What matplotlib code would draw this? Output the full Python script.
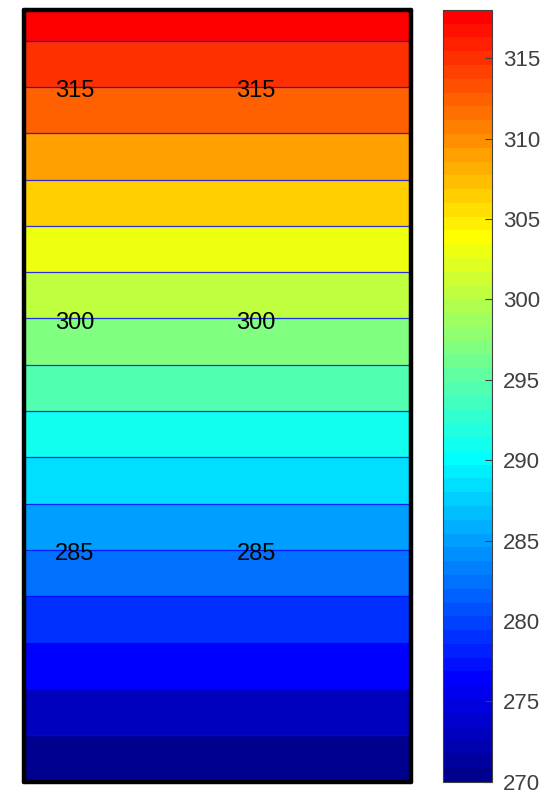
"""Filled temperature contours (MATLAB-style jet) with inline labels and colorbar."""

import matplotlib

matplotlib.use("Agg")
import matplotlib.pyplot as plt
import numpy as np
from matplotlib.colors import ListedColormap, Normalize
from matplotlib.cm import ScalarMappable

plt.rcParams["font.family"] = ["Liberation Sans", "DejaVu Sans"]

# --- data ---
x_grid = [0.0, 1.0]
height_grid = [0.0, 1.0]
temperature = [[270.0, 270.0], [320.0, 320.0]]  # bottom row, top row

fill_levels = [270, 273, 276, 279, 282, 285, 288, 291, 294, 297,
               300, 303, 306, 309, 312, 315, 318, 320]
line_levels = [273, 276, 279, 282, 285, 288, 291, 294, 297,
               300, 303, 306, 309, 312, 315, 318]
label_levels = [315, 300, 285]
label_x = [0.131, 0.60]

clim = (270, 318)
cbar_ticks = [270, 275, 280, 285, 290, 295, 300, 305, 310, 315]


def matlab_jet(m=64):
    """Same construction as MATLAB's jet(m)."""
    n = int(np.ceil(m / 4))
    u = np.concatenate([np.arange(1, n + 1) / n, np.ones(n - 1), np.arange(n, 0, -1) / n])
    g = int(np.ceil(n / 2)) - (1 if m % 4 == 1 else 0) + np.arange(1, len(u) + 1)
    r = g + n
    b = g - n
    J = np.zeros((m, 3))
    for col, idx in ((0, r), (1, g), (2, b)):
        ok = (idx >= 1) & (idx <= m)
        J[idx[ok] - 1, col] = u[ok]
    return J


# colorbar only reaches pure red: first 56 of jet(64)
cmap = ListedColormap(matlab_jet(64)[:56])
norm = Normalize(*clim)

fig = plt.figure(figsize=(5.54, 7.94), dpi=100, facecolor="white")
ax = fig.add_axes([0.0442, 0.0157, 0.6968, 0.972])

X, Y = np.meshgrid(x_grid, height_grid)
Z = np.array(temperature)

band_colors = [cmap(norm(lv)) for lv in fill_levels[:-1]]
ax.contourf(X, Y, Z, levels=fill_levels, colors=band_colors, antialiased=False)
ax.contour(X, Y, Z, levels=line_levels, colors="blue", linewidths=0.9, alpha=0.8)

# inline labels sit just below the line they name
col_t = Z[:, 0]
for lv in label_levels:
    yy = np.interp(lv - 0.65, col_t, height_grid)
    for xx in label_x:
        ax.text(xx, yy, str(lv), ha="center", va="baseline", fontsize=17, color="black")

ax.set_xlim(0, 1)
ax.set_ylim(0, 1)
ax.set_xticks([])
ax.set_yticks([])
for spine in ax.spines.values():
    spine.set_linewidth(3.2)
    spine.set_color("black")
    spine.set_joinstyle("round")
    spine.set_capstyle("round")

# colorbar
cax = fig.add_axes([0.800, 0.0155, 0.0874, 0.972])
sm = ScalarMappable(norm=norm, cmap=cmap)
sm.set_array([])
cbar = fig.colorbar(sm, cax=cax, ticks=cbar_ticks)
cbar.outline.set_edgecolor("#404040")
cbar.outline.set_linewidth(0.8)
cbar.ax.tick_params(direction="in", length=5, width=0.8, color="#404040",
                    labelcolor="#404040", labelsize=16, pad=8)

fig.savefig("out.png", dpi=100, facecolor="white")
